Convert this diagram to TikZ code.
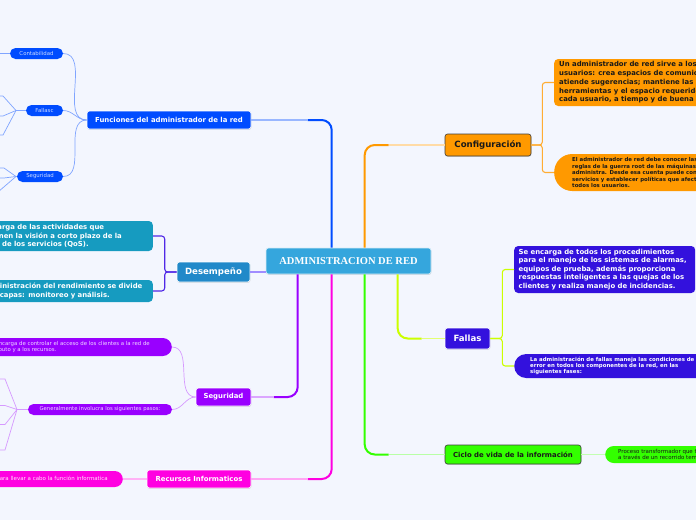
\documentclass[tikz,border=0pt]{standalone}
\usepackage{fontspec}
\setmainfont{DejaVu Sans}
\newfontfamily\titlefont{Liberation Serif}
\usetikzlibrary{calc,shadows}
\definecolor{bgpaper}{RGB}{243,246,254}
\definecolor{centerblue}{RGB}{53,166,221}
\definecolor{funblue}{RGB}{0,76,255}
\definecolor{desblue}{RGB}{33,137,201}
\definecolor{qosteal}{RGB}{22,155,192}
\definecolor{desviolet}{RGB}{80,40,230}
\definecolor{desline}{RGB}{160,140,255}
\definecolor{segpurple}{RGB}{153,0,255}
\definecolor{recmagenta}{RGB}{255,0,225}
\definecolor{conforange}{RGB}{255,153,0}
\definecolor{falviolet}{RGB}{51,17,221}
\definecolor{falline}{RGB}{204,255,0}
\definecolor{cicgreen}{RGB}{51,255,0}
\definecolor{darktext}{RGB}{25,25,25}
\tikzset{
  topic/.style={rounded corners=2.5pt,draw=white,line width=0.6pt,text=white,align=center,inner sep=0pt,
    font=\bfseries\fontsize{6.9}{8}\selectfont,
    drop shadow={opacity=0.25,shadow xshift=0.4pt,shadow yshift=-0.9pt}},
  topicbig/.style={topic,font=\bfseries\fontsize{8.6}{10}\selectfont},
  topicdark/.style={topic,draw=darktext!85,text=darktext},
  textbox/.style={rounded corners=4pt,align=left,inner xsep=5pt,inner ysep=2pt,
    font=\bfseries\fontsize{6.9}{8.6}\selectfont},
  smallbox/.style={align=left,inner ysep=1pt,font=\bfseries\fontsize{5.4}{6.5}\selectfont},
  pill/.style={rounded corners=5.5pt,minimum height=11pt,inner sep=0pt,
    font=\fontsize{5.4}{6}\selectfont},
  pilltext/.style={align=left,inner ysep=1pt,font=\fontsize{5.4}{6}\selectfont},
  trunk/.style={draw=#1,line width=2pt,rounded corners=10pt},
  twig/.style={draw=#1,line width=1.1pt},
  subline/.style={draw=#1,line width=0.7pt}
}

\begin{document}
\begin{tikzpicture}[x=1pt,y=-1pt]
  \useasboundingbox (0,0) rectangle (696,520);
  \fill[bgpaper] (0,0) rectangle (696,520);
  \clip (0,0) rectangle (696,520);

  % centre
  \node[topic,fill=centerblue,draw=white!80!centerblue,minimum width=165pt,minimum height=26pt,
    font=\titlefont\bfseries\fontsize{10.5}{12}\selectfont] (adm) at (348.5,261) {ADMINISTRACION DE RED};

  % topics
  \node[topic,fill=funblue,minimum width=164pt,minimum height=18pt] (fun) at (169,120) {Funciones del administrador de la red};
  \node[topicbig,fill=desblue,minimum width=73pt,minimum height=20pt] (des) at (213.5,272) {Desempeño};
  \node[topic,fill=segpurple,minimum width=55pt,minimum height=18pt] (seg) at (223.5,397) {Seguridad};
  \node[topic,fill=recmagenta,minimum width=104pt,minimum height=18pt] (rec) at (199,479) {Recursos Informaticos};
  \node[topicdark,fill=conforange,minimum width=86pt,minimum height=22pt,font=\bfseries\fontsize{8.6}{10}\selectfont] (conf) at (488,145) {Configuración};
  \node[topicbig,fill=falviolet,minimum width=45pt,minimum height=21pt] (fal) at (467.5,338.5) {Fallas};
  \node[topicdark,fill=cicgreen,minimum width=136pt,minimum height=19pt] (cic) at (513,454.5) {Ciclo de vida de la información};

  % funciones
  \node[pill,fill=funblue,text=funblue!20!white,minimum width=53pt] (cont) at (36.5,53.5) {Contabilidad};
  \node[pill,fill=funblue,text=funblue!20!white,minimum width=37pt] (fas) at (44.5,110.5) {Fallasc};
  \node[pill,fill=funblue,text=funblue!20!white,minimum width=46pt] (segs) at (40,176.5) {Seguridad};

  % desempeño
  \node[textbox,fill=qosteal,text=white,anchor=east,text width=176pt,minimum height=30pt] (qos) at (153,236)
    {Se encarga de las actividades que\\mantienen la visión a corto plazo de la\\calidad de los servicios (QoS).};
  \node[textbox,fill=qosteal,text=white,anchor=east,text width=176pt,minimum height=22pt] (rend) at (153,291)
    {La administración del rendimiento se divide\\en dos capas: monitoreo y análisis.};

  % seguridad
  \node[pilltext,fill=segpurple,text=segpurple!15!white,rounded corners=9pt,inner xsep=22pt,
    minimum height=18pt,anchor=east] (acc) at (172,347)
    {Se encarga de controlar el acceso de los clientes a la red de\\cómputo y a los recursos.};
  \node[pill,fill=segpurple,text=segpurple!15!white,minimum width=144pt,font=\fontsize{5.3}{6}\selectfont] (pasos) at (100,409.5)
    {Generalmente involucra los siguientes pasos:};

  % recursos
  \node[pilltext,fill=recmagenta,text=recmagenta!12!white,rounded corners=8pt,inner xsep=15pt,
    minimum height=16pt,anchor=east,font=\fontsize{5.5}{6}\selectfont] (func) at (123,479)
    {Elementos necesarios para llevar a cabo la función informatica};

  % configuración
  \node[textbox,fill=conforange,text=darktext,anchor=west,minimum height=47pt,
    font=\bfseries\fontsize{6.9}{8.7}\selectfont] (usu) at (554,82.5)
    {Un administrador de red sirve a los\\usuarios: crea espacios de comunicación,\\atiende sugerencias; mantiene las\\herramientas y el espacio requerido por\\cada usuario, a tiempo y de buena forma.};
  \node[smallbox,fill=conforange,text=darktext,rounded corners=18pt,inner xsep=18pt,
    minimum height=37pt,anchor=west] (root) at (554,172.5)
    {El administrador de red debe conocer las\\reglas de la guerra root de las máquinas que\\administra. Desde esa cuenta puede configurar\\servicios y establecer políticas que afecten a\\todos los usuarios.};

  % fallas
  \node[textbox,fill=falviolet,text=white,anchor=west,text width=172pt,inner xsep=4.5pt,minimum height=47pt] (proc) at (514,269.5)
    {Se encarga de todos los procedimientos\\para el manejo de los sistemas de alarmas,\\equipos de prueba, además proporciona\\respuestas inteligentes a las quejas de los\\clientes y realiza manejo de incidencias.};
  \node[smallbox,fill=falviolet,text=white,rounded corners=12pt,inner xsep=16pt,
    minimum height=24pt,anchor=west,font=\bfseries\fontsize{5.4}{6.4}\selectfont] (fases) at (514,366)
    {La administración de fallas maneja las condiciones de\\error en todos los componentes de la red, en las\\siguientes fases:};

  % ciclo
  \node[pilltext,fill=cicgreen,text=darktext,rounded corners=8.5pt,inner xsep=13pt,
    minimum height=17pt,anchor=west,font=\fontsize{5.5}{6}\selectfont] (trans) at (605,454.5)
    {Proceso transformador que tiene la información\\a través de un recorrido temporal.};

  % trunks from the centre
  \coordinate (sfun) at ($(adm.north west)+(66,0)$);
  \coordinate (sconf) at ($(adm.north west)+(99,0)$);
  \coordinate (sseg) at ($(adm.south west)+(32,0)$);
  \coordinate (srec) at ($(adm.south west)+(66,0)$);
  \coordinate (scic) at ($(adm.south west)+(99,0)$);
  \coordinate (sfal) at ($(adm.south west)+(132,0)$);

  \draw[trunk=funblue] (sfun) -- (sfun |- fun.east) -- ++(-24,0);
  \draw[twig=funblue!40] ($(sfun |- fun.east)+(-24,0)$) -- (fun.east);
  \draw[trunk=conforange] (sconf) -- (sconf |- conf.west) -- ++(24,0);
  \draw[twig=conforange!35] ($(sconf |- conf.west)+(24,0)$) -- (conf.west);
  \draw[trunk=segpurple] (sseg) -- (sseg |- seg.east) -- ++(-24,0);
  \draw[twig=segpurple!35] ($(sseg |- seg.east)+(-24,0)$) -- (seg.east);
  \draw[trunk=recmagenta] (srec) -- (srec |- rec.east) -- ++(-24,0);
  \draw[twig=recmagenta!35] ($(srec |- rec.east)+(-24,0)$) -- (rec.east);
  \draw[trunk=cicgreen] (scic) -- (scic |- cic.west) -- ++(24,0);
  \draw[twig=cicgreen!35] ($(scic |- cic.west)+(24,0)$) -- (cic.west);
  \draw[trunk=falline] (sfal) -- (sfal |- fal.west) -- ++(24,0);
  \draw[twig=falline!55] ($(sfal |- fal.west)+(24,0)$) -- (fal.west);
  \draw[twig=desline] (des.east) -- (des.east -| adm.west);

  % branches
  \foreach \n in {cont,fas,segs}
    \draw[subline=funblue!50] (fun.west) to[out=180,in=0] (\n.east);
  \foreach \n in {acc,pasos}
    \draw[subline=segpurple!40] (seg.west) to[out=180,in=0] (\n.east);
  \draw[twig=desviolet,rounded corners=3pt] (des.west) -- ++(-12,0) |- (qos.east);
  \draw[twig=desviolet,rounded corners=3pt] (des.west) -- ++(-12,0) |- (rend.east);
  \draw[twig=conforange!80,rounded corners=3pt] (conf.east) -- ++(11,0) |- (usu.west);
  \draw[twig=conforange!80,rounded corners=3pt] (conf.east) -- ++(11,0) |- (root.west);
  \draw[twig=falline,rounded corners=3pt] (fal.east) -- ++(12,0) |- (proc.west);
  \draw[twig=falline,rounded corners=3pt] (fal.east) -- ++(12,0) |- (fases.west);
  \draw[twig=recmagenta!30] (rec.west) -- (func.east);
  \draw[twig=cicgreen!30] (cic.east) -- (trans.west);

  % leaves running off the left edge
  \coordinate (cj) at (-3,53.5);
  \draw[subline=funblue!50] (cont.west) -- (cj);
  \coordinate (fj) at (16,110.5);
  \draw[subline=funblue!50] (fas.west) -- (fj);
  \foreach \yy in {96,116,135}
    \draw[subline=funblue!50] (fj) -- (3,\yy) -- (-3,\yy);
  \coordinate (sj) at (16,176.5);
  \draw[subline=funblue!50] (segs.west) -- (sj);
  \foreach \yy in {168,178}
    \draw[subline=funblue!50] (sj) -- (4,\yy) -- (-3,\yy);
  \draw[subline=funblue!50] (sj) -- (-2,192);
  \coordinate (pj) at (17,409.5);
  \draw[subline=segpurple!40] (pasos.west) -- (pj);
  \foreach \yy in {379,405.5,424.5,450}
    \draw[subline=segpurple!40] (pj) -- (5,\yy) -- (-3,\yy);
\end{tikzpicture}
\end{document}
